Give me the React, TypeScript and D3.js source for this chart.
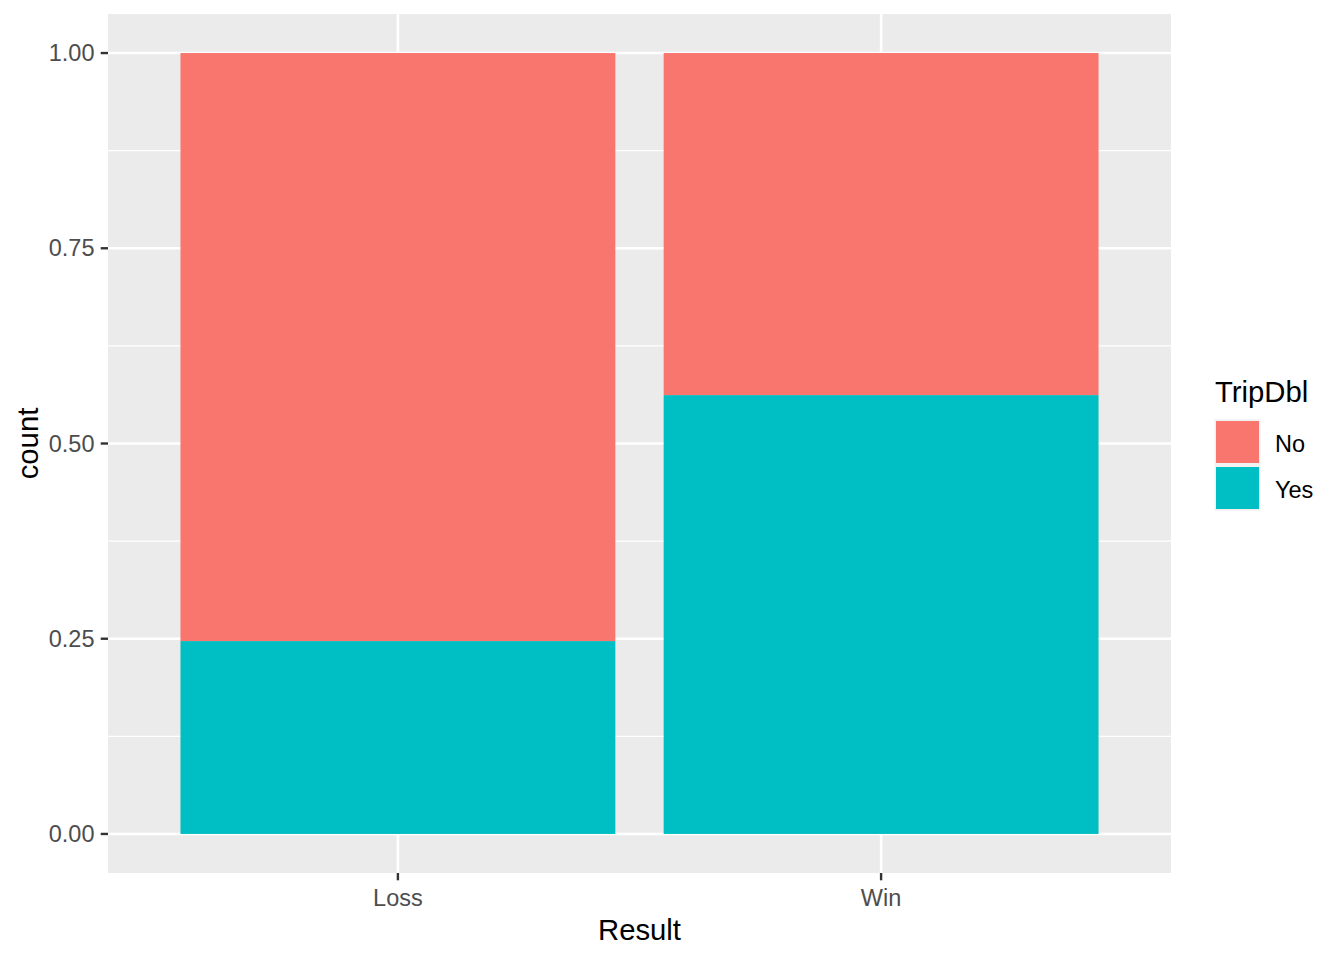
import React from "react";
import * as d3 from "d3";

const categories = ["Loss", "Win"];
const seriesKeys = ["Yes", "No"];
const yesValues = [0.247, 0.562];
const noValues = [0.753, 0.438];
const yTicks = [0, 0.25, 0.5, 0.75, 1.0];
const yMinorTicks = [0.125, 0.375, 0.625, 0.875];
const legendLabels = ["No", "Yes"];
const colors: Record<string, string> = { No: "#F8766D", Yes: "#00BFC4" };

const W = 1344;
const H = 960;
const panel = { left: 108, right: 1171, top: 14, bottom: 873 };
const FONT = "'Liberation Sans', Arial, sans-serif";

export default function App() {
  const rows = categories.map((c, i) => ({ cat: c, Yes: yesValues[i], No: noValues[i] }));
  const stack = d3.stack<any>().keys(seriesKeys);
  const series = stack(rows);

  const y = d3.scaleLinear().domain([-0.05, 1.05]).range([panel.bottom, panel.top]);
  // ggplot discrete expansion: 0.6 units each side
  const xCont = d3.scaleLinear().domain([0.4, 2.6]).range([panel.left, panel.right]);
  const xPos = (c: string) => xCont(categories.indexOf(c) + 1);
  const halfW = xCont(1.45) - xCont(1);

  const gridMajor = 2.6;
  const gridMinor = 1.3;

  return (
    <svg width={W} height={H} style={{ position: "absolute", left: 0, top: 0, background: "#fff" }} fontFamily={FONT}>
      <rect x={panel.left} y={panel.top} width={panel.right - panel.left} height={panel.bottom - panel.top} fill="#EBEBEB" />
      {yMinorTicks.map((t) => (
        <line key={"mi" + t} x1={panel.left} x2={panel.right} y1={y(t)} y2={y(t)} stroke="#fff" strokeWidth={gridMinor} />
      ))}
      {yTicks.map((t) => (
        <line key={"ma" + t} x1={panel.left} x2={panel.right} y1={y(t)} y2={y(t)} stroke="#fff" strokeWidth={gridMajor} />
      ))}
      {categories.map((c) => (
        <line key={"xg" + c} x1={xPos(c)} x2={xPos(c)} y1={panel.top} y2={panel.bottom} stroke="#fff" strokeWidth={gridMajor} />
      ))}
      {series.map((s) => (
        <g key={s.key} fill={colors[s.key]}>
          {s.map((d: any) => (
            <rect
              key={d.data.cat}
              x={xPos(d.data.cat) - halfW}
              width={2 * halfW}
              y={y(d[1])}
              height={y(d[0]) - y(d[1])}
            />
          ))}
        </g>
      ))}
      {/* y axis */}
      {yTicks.map((t) => (
        <g key={"yt" + t}>
          <line x1={panel.left - 7.3} x2={panel.left} y1={y(t)} y2={y(t)} stroke="#333333" strokeWidth={2.4} />
          <text x={panel.left - 13.5} y={y(t)} dy="0.35em" textAnchor="end" fontSize={23.5} fill="#4D4D4D">
            {t.toFixed(2)}
          </text>
        </g>
      ))}
      {/* x axis */}
      {categories.map((c) => (
        <g key={"xt" + c}>
          <line x1={xPos(c)} x2={xPos(c)} y1={panel.bottom} y2={panel.bottom + 7.3} stroke="#333333" strokeWidth={2.4} />
          <text x={xPos(c)} y={panel.bottom + 33} textAnchor="middle" fontSize={23.5} fill="#4D4D4D">
            {c}
          </text>
        </g>
      ))}
      <text x={(panel.left + panel.right) / 2} y={940} textAnchor="middle" fontSize={29.3} fill="#000">
        Result
      </text>
      <text transform={`translate(38,${(panel.top + panel.bottom) / 2}) rotate(-90)`} textAnchor="middle" fontSize={29.3} fill="#000">
        count
      </text>
      {/* legend */}
      <text x={1215} y={402} fontSize={29.3} fill="#000">TripDbl</text>
      {legendLabels.map((l, i) => {
        const top = 419 + i * 46;
        return (
          <g key={"lg" + l}>
            <rect x={1214.5} y={top} width={46} height={46} fill="#F2F2F2" />
            <rect x={1216} y={top + 2} width={43} height={42} fill={colors[l]} />
            <text x={1275} y={top + 24.5} dy="0.35em" fontSize={23.5} fill="#000">
              {l}
            </text>
          </g>
        );
      })}
    </svg>
  );
}
